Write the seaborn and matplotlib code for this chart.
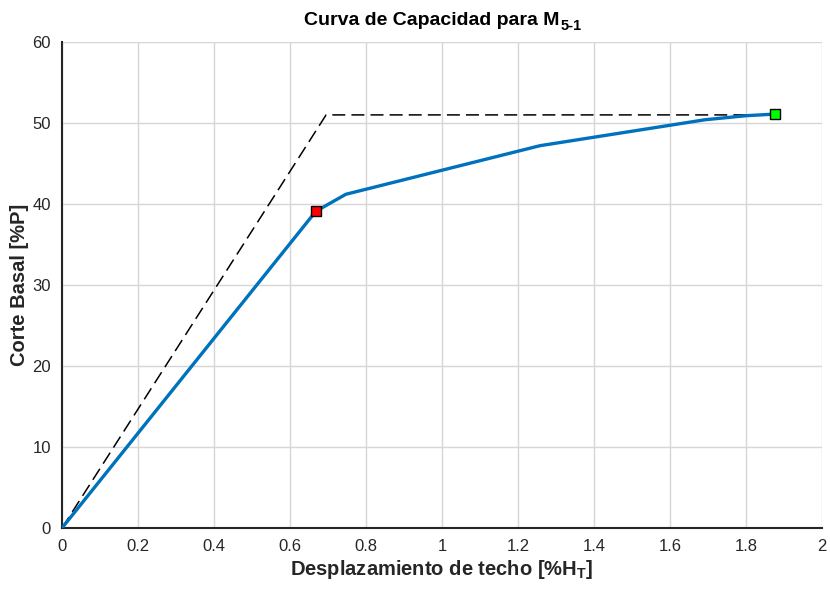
import matplotlib
matplotlib.use("Agg")
import matplotlib.pyplot as plt
import seaborn as sns
import pandas as pd

# Capacity curve (blue)
cap_x = [0.0, 0.668, 0.747, 1.258, 1.692, 1.80, 1.876]
cap_y = [0.0, 39.1, 41.2, 47.2, 50.4, 50.9, 51.1]
# Bilinear idealization (dashed)
bil_x = [0.0, 0.695, 1.876]
bil_y = [0.0, 51.0, 51.0]
# Markers
yield_pt = (0.668, 39.1)
ult_pt = (1.876, 51.1)

x_ticks = [0, 0.2, 0.4, 0.6, 0.8, 1, 1.2, 1.4, 1.6, 1.8, 2]
x_ticklabels = ["0", "0.2", "0.4", "0.6", "0.8", "1", "1.2", "1.4", "1.6", "1.8", "2"]
y_ticks = [0, 10, 20, 30, 40, 50, 60]

sns.set_style("whitegrid")
plt.rcParams["font.family"] = ["Liberation Sans", "DejaVu Sans"]
plt.rcParams["mathtext.fontset"] = "custom"
plt.rcParams["mathtext.rm"] = "Liberation Sans:bold"
plt.rcParams["mathtext.it"] = "Liberation Sans:bold"
plt.rcParams["mathtext.bf"] = "Liberation Sans:bold"
plt.rcParams["mathtext.default"] = "rm"

fig = plt.figure(figsize=(8.3, 5.9), dpi=100)
ax = fig.add_axes([62/830, 62/590, 760/830, 486/590])

df_cap = pd.DataFrame({"x": cap_x, "y": cap_y})
df_bil = pd.DataFrame({"x": bil_x, "y": bil_y})
sns.lineplot(data=df_bil, x="x", y="y", sort=False, ax=ax, color="black",
             lw=1.1, zorder=3)
ax.lines[-1].set_linestyle((0, (8.5, 4)))
sns.lineplot(data=df_cap, x="x", y="y", sort=False, ax=ax, color="#0072BD",
             lw=2.4, zorder=4)
ax.plot([yield_pt[0]], [yield_pt[1]], marker="s", ms=7, mfc="#FF0000",
        mec="black", mew=1, zorder=5, ls="none", clip_on=False)
ax.plot([ult_pt[0]], [ult_pt[1]], marker="s", ms=7, mfc="#00FF00",
        mec="black", mew=1, zorder=5, ls="none", clip_on=False)

ax.set_xlim(0, 2)
ax.set_ylim(0, 60)
ax.set_xticks(x_ticks)
ax.set_xticklabels(x_ticklabels)
ax.set_yticks(y_ticks)
ax.grid(True, color="#d6d6d6", lw=1.0)
for s in ["top", "right"]:
    ax.spines[s].set_visible(False)
for s in ["left", "bottom"]:
    ax.spines[s].set_color("#262626")
    ax.spines[s].set_linewidth(1.5)
ax.tick_params(direction="in", length=6, width=1, color="#262626",
               labelsize=12, labelcolor="#262626", pad=8)

ax.set_xlabel("Desplazamiento de techo [%H$_\\mathrm{T}$]", fontsize=14.5,
              fontweight="bold", color="#262626", labelpad=3)
ax.set_ylabel("Corte Basal [%P]", fontsize=14.5, fontweight="bold",
              color="#262626", labelpad=2)

t = fig.text(432/830, (590 - 25)/590, "Curva de Capacidad para M",
             ha="center", va="baseline", fontsize=14, fontweight="bold",
             color="black")
ax.annotate("5-1", xy=(1, 0), xycoords=t, xytext=(0.5, 2),
            textcoords="offset points", ha="left", va="center",
            fontsize=10.5, fontweight="bold", color="black",
            annotation_clip=False)

fig.savefig("out.png", dpi=100)
